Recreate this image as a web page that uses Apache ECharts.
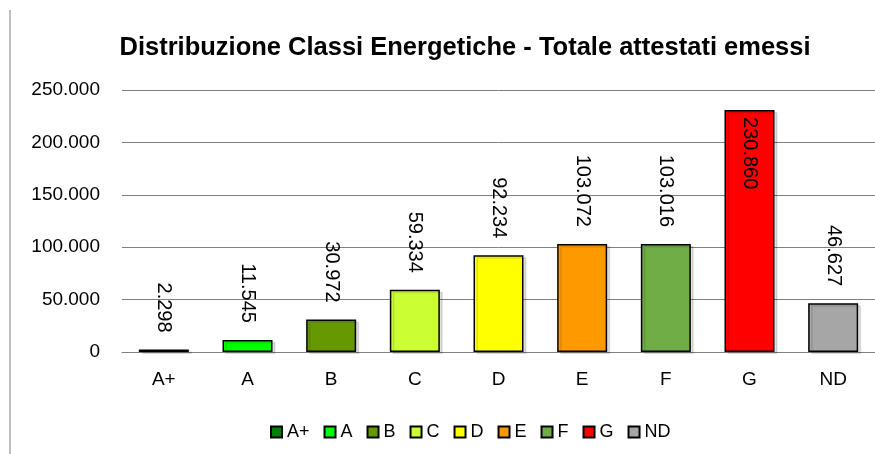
<!DOCTYPE html>
<html>
<head>
<meta charset="utf-8">
<script src="https://cdn.jsdelivr.net/npm/echarts@6/dist/echarts.min.js"></script>
<style>
html, body { margin: 0; padding: 0; background: #fff; }
#main { width: 875px; height: 454px; }
</style>
</head>
<body>
<div id="main"></div>
<script>
// classi energetiche e numero di attestati
var classi = ['A+', 'A', 'B', 'C', 'D', 'E', 'F', 'G', 'ND'];
var attestati = [2298, 11545, 30972, 59334, 92234, 103072, 103016, 230860, 46627];
var colori = ['#008000', '#00ff00', '#669900', '#ccff33', '#ffff00', '#ff9900', '#70ad47', '#ff0000', '#a6a6a6'];
var yTicks = [0, 50000, 100000, 150000, 200000, 250000];

function fmt(v) {
    return String(v).replace(/\B(?=(\d{3})+(?!\d))/g, '.');
}

var chart = echarts.init(document.getElementById('main'));

var series = classi.map(function (c, i) {
    var data = classi.map(function (x, j) { return j === i ? attestati[i] : '-'; });
    var inside = attestati[i] > 200000; // etichetta dentro la barra per G
    return {
        name: c,
        type: 'bar',
        data: data,
        barWidth: 50,
        barGap: '-100%',
        itemStyle: {
            color: colori[i],
            borderColor: '#000',
            borderWidth: 1.5,
            shadowColor: 'rgba(0,0,0,0.12)',
            shadowOffsetX: 3,
            shadowOffsetY: 2
        },
        label: {
            show: true,
            position: inside ? 'insideTop' : 'top',
            distance: inside ? 7 : 17,
            rotate: -90,
            align: inside ? 'left' : 'right',
            verticalAlign: 'middle',
            fontFamily: 'Liberation Sans, Arial, sans-serif',
            fontSize: 20,
            color: '#000',
            formatter: function (p) { return fmt(p.value); }
        }
    };
});

var option = {
    animation: false,
    title: {
        text: 'Distribuzione Classi Energetiche - Totale attestati emessi',
        left: 460,
        top: 30,
        textAlign: 'center',
        textStyle: {
            fontFamily: 'Liberation Sans, Arial, sans-serif',
            fontWeight: 'bold',
            fontSize: 25.5,
            color: '#000'
        }
    },
    legend: {
        data: classi,
        left: 265,
        top: 418,
        icon: 'rect',
        itemWidth: 11,
        itemHeight: 11,
        itemGap: 14,
        textStyle: {
            fontFamily: 'Liberation Sans, Arial, sans-serif',
            fontSize: 18,
            color: '#000'
        }
    },
    grid: {
        left: 122,
        right: -13,
        top: 90,
        bottom: 102,
        containLabel: false
    },
    xAxis: {
        type: 'category',
        data: classi,
        axisLine: { lineStyle: { color: '#808080', width: 1 } },
        axisTick: { show: false },
        axisLabel: {
            margin: 18,
            fontFamily: 'Liberation Sans, Arial, sans-serif',
            fontSize: 19,
            color: '#000'
        }
    },
    yAxis: {
        type: 'value',
        min: yTicks[0],
        max: yTicks[yTicks.length - 1],
        interval: 50000,
        axisLine: { show: false },
        axisTick: { show: false },
        splitLine: { lineStyle: { color: '#808080', width: 1 } },
        axisLabel: {
            margin: 22,
            fontFamily: 'Liberation Sans, Arial, sans-serif',
            fontSize: 19,
            color: '#000',
            formatter: function (v) { return fmt(v); }
        }
    },
    graphic: [{
        type: 'line',
        shape: { x1: 10, y1: 10, x2: 10, y2: 454 },
        style: { stroke: '#808080', lineWidth: 1 }
    }],
    series: series
};

chart.setOption(option);
</script>
</body>
</html>
